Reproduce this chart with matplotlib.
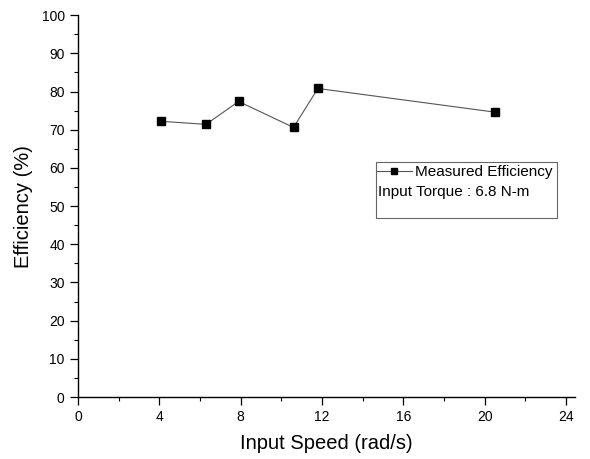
import matplotlib.pyplot as plt
from matplotlib.patches import Rectangle
from matplotlib.ticker import MultipleLocator

# data
speed = [4.1, 6.3, 7.9, 10.6, 11.8, 20.5]          # rad/s
efficiency = [72.2, 71.4, 77.4, 70.6, 80.8, 74.6]  # %
x_ticks = [0, 4, 8, 12, 16, 20, 24]
y_ticks = [0, 10, 20, 30, 40, 50, 60, 70, 80, 90, 100]

plt.rcParams['font.family'] = ['Liberation Sans', 'DejaVu Sans']

fig = plt.figure(figsize=(5.9, 4.59), dpi=100)
ax = fig.add_axes([0.132, 0.135, 0.843, 0.832])

ax.plot(speed, efficiency, color='#555555', linewidth=0.8, marker='s',
        markersize=5.5, markerfacecolor='black', markeredgecolor='black',
        label='Measured Efficiency')

ax.set_xlim(0, 24.45)
ax.set_ylim(0, 100)
ax.set_xticks(x_ticks)
ax.set_yticks(y_ticks)
ax.xaxis.set_minor_locator(MultipleLocator(2))
ax.yaxis.set_minor_locator(MultipleLocator(5))
ax.tick_params(which='major', direction='out', length=6, width=0.9, labelsize=10)
ax.tick_params(which='minor', direction='out', length=3, width=0.8)
for s in ['top', 'right']:
    ax.spines[s].set_visible(False)
for s in ['left', 'bottom']:
    ax.spines[s].set_linewidth(1.0)

ax.set_xlabel('Input Speed (rad/s)', fontsize=14.5, labelpad=7)
ax.set_ylabel('Efficiency (%)', fontsize=14.5, labelpad=6)

# legend box with the torque note
ax.add_patch(Rectangle((0.600, 0.469), 0.364, 0.146, transform=ax.transAxes,
                       fill=False, edgecolor='#666666', linewidth=0.8))
leg = ax.legend(loc='center left', bbox_to_anchor=(0.601, 0.589), frameon=False,
                fontsize=11, handlelength=2.3, handletextpad=0.2,
                borderpad=0, borderaxespad=0, markerscale=0.85)
ax.text(0.603, 0.537, 'Input Torque : 6.8 N-m', transform=ax.transAxes,
        fontsize=11, va='center', ha='left')

fig.savefig('out.png', dpi=100)
